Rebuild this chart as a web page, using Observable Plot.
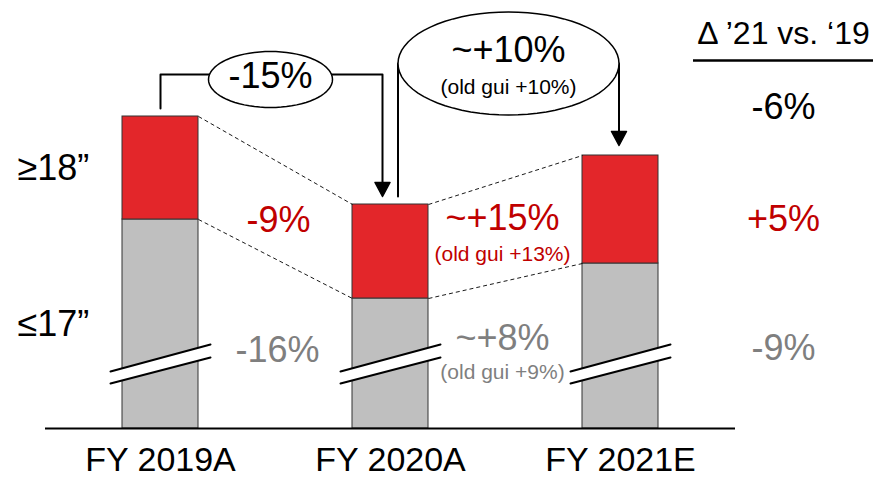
<!DOCTYPE html>
<html>
<head>
<meta charset="utf-8">
<script src="https://cdn.jsdelivr.net/npm/d3@7"></script>
<script src="https://cdn.jsdelivr.net/npm/@observablehq/plot@0.6"></script>
<style>
  html, body { margin: 0; padding: 0; background: #fff; }
  svg { display: block; }
</style>
</head>
<body>
<div id="chart"></div>
<script>
// ---------- data ----------
const categories = ["FY 2019A", "FY 2020A", "FY 2021E"];
const smallWheels = [209, 130, 165];   // ≤17" (axis broken, indexed units)
const largeWheels = [103, 94, 108];    // ≥18"
const segmentLabels = ["≥18”", "≤17”"];
const changeLarge = ["-9%", "~+15%"];
const changeLargeOld = ["", "(old gui +13%)"];
const changeSmall = ["-16%", "~+8%"];
const changeSmallOld = ["", "(old gui +9%)"];
const changeTotal = ["-15%", "~+10%"];
const changeTotalOld = ["", "(old gui +10%)"];
const deltaTitle = "Δ ’21 vs. ‘19";
const deltaValues = ["-6%", "+5%", "-9%"]; // total, ≥18", ≤17"

// ---------- styling ----------
const RED = "#E3262A", RED_TXT = "#C00000", GRAY = "#BFBFBF", GRAY_TXT = "#7F7F7F";
const FONT = "'Liberation Sans', Arial, sans-serif";
const unit = 230;                 // px per category step
const px = p => p / unit;         // horizontal pixel offset in x units
const hw = px(38);                // half bar width

const rows = categories.map((c, i) => ({
  i, c, small: smallWheels[i], large: largeWheels[i], top: smallWheels[i] + largeWheels[i]
}));
const tops = rows.map(d => d.top);

// connectors between bars
const links = [];
for (let i = 0; i < rows.length - 1; i++) {
  links.push({x1: i + hw, y1: rows[i].top, x2: i + 1 - hw, y2: rows[i + 1].top});
  links.push({x1: i + hw, y1: rows[i].small, x2: i + 1 - hw, y2: rows[i + 1].small});
}

// brackets
const ellipse = (cx, cy, rx, ry) => d3.range(0, 73).map(k => {
  const t = (k / 72) * 2 * Math.PI;
  return [cx + px(rx) * Math.cos(t), cy + ry * Math.sin(t)];
});
const tri = (x, y, w, h) => [[x - px(w / 2), y + h], [x + px(w / 2), y + h], [x, y]];

const lvl1 = tops[0] + 42;
const a1x = 1 - px(8);
const bracket1 = [[0, tops[0] + 8], [0, lvl1], [a1x, lvl1], [a1x, tops[1] + 8 + 12]];
const e1 = {cx: 0.5 - px(5), cy: lvl1 - 5, rx: 62, ry: 28};

const lvl2 = tops[0] + 53;
const e2 = {cx: 1.5 + px(3), cy: lvl2, rx: 110.5, ry: 51.5};
const b2L = e2.cx - px(e2.rx), b2R = e2.cx + px(e2.rx);
const bracket2a = [[b2L, tops[1] + 8], [b2L, lvl2]];
const bracket2b = [[b2R, lvl2], [b2R, tops[2] + 10 + 12]];

// break marks
const breakY = {ll: 45, lr: 71, ul: 57, ur: 84};
const breakPolys = rows.map(d => [[d.i - px(50), breakY.ll], [d.i + px(50), breakY.lr], [d.i + px(50), breakY.ur], [d.i - px(50), breakY.ul]]);

const XY = {x: d => d[0], y: d => d[1]};
const txt = (data, opts) => Plot.text(data, {fontFamily: FONT, ...opts});

const marks = [
  // bars
  Plot.rect(rows, {x1: d => d.i - hw, x2: d => d.i + hw, y1: 0, y2: d => d.small, fill: GRAY, stroke: "#333", strokeWidth: 1}),
  Plot.rect(rows, {x1: d => d.i - hw, x2: d => d.i + hw, y1: d => d.small, y2: d => d.top, fill: RED, stroke: "#333", strokeWidth: 1}),
  // connectors
  Plot.link(links, {x1: "x1", y1: "y1", x2: "x2", y2: "y2", stroke: "#000", strokeWidth: 0.9, strokeDasharray: "4,3"}),
  // break marks
  ...breakPolys.map(p => Plot.line(p, {...XY, curve: "linear-closed", fill: "white", stroke: "none"})),
  ...breakPolys.map(p => Plot.line([p[0], p[1]], {...XY, stroke: "#000", strokeWidth: 2})),
  ...breakPolys.map(p => Plot.line([p[3], p[2]], {...XY, stroke: "#000", strokeWidth: 2})),
  // baseline
  Plot.ruleY([0], {x1: -0.5, x2: 2.5, stroke: "#000", strokeWidth: 2}),
  // brackets
  Plot.line(bracket1, {...XY, stroke: "#000", strokeWidth: 2}),
  Plot.line(tri(a1x, tops[1] + 8, 15, 14), {...XY, curve: "linear-closed", fill: "#000", stroke: "#000"}),
  Plot.line(ellipse(e1.cx, e1.cy, e1.rx, e1.ry), {...XY, curve: "linear-closed", fill: "white", stroke: "#000", strokeWidth: 1.5}),
  Plot.line(bracket2a, {...XY, stroke: "#000", strokeWidth: 2}),
  Plot.line(bracket2b, {...XY, stroke: "#000", strokeWidth: 2}),
  Plot.line(tri(b2R, tops[2] + 10, 15, 14), {...XY, curve: "linear-closed", fill: "#000", stroke: "#000"}),
  Plot.line(ellipse(e2.cx, e2.cy, e2.rx, e2.ry), {...XY, curve: "linear-closed", fill: "white", stroke: "#000", strokeWidth: 1.5}),
  txt([changeTotal[0]], {x: e1.cx, y: e1.cy + 3, text: d => d, fontSize: 36, fill: "#000"}),
  txt([changeTotal[1]], {x: e2.cx, y: e2.cy + 13, text: d => d, fontSize: 36, fill: "#000"}),
  txt([changeTotalOld[1]], {x: e2.cx, y: e2.cy - 24, text: d => d, fontSize: 21, fill: "#000"}),
  // category labels
  txt(rows, {x: "i", y: -32, text: "c", fontSize: 34, fill: "#000"}),
  // segment labels (left)
  txt([{t: segmentLabels[0], y: rows[0].small + rows[0].large / 2}, {t: segmentLabels[1], y: rows[0].small / 2}],
      {x: -0.5 + px(-28), y: "y", text: "t", fontSize: 36, fill: "#000", textAnchor: "start"}),
  // between-bar changes
  txt(changeLarge.map((t, i) => ({t, i})), {x: d => d.i + 0.5 + px(d.i ? -3 : 3), y: d => d.i ? 210 : 208, text: "t", fontSize: 36, fill: RED_TXT}),
  txt(changeLargeOld.map((t, i) => ({t, i})), {x: d => d.i + 0.5 - px(3), y: 174, text: "t", fontSize: 21, fill: RED_TXT}),
  txt(changeSmall.map((t, i) => ({t, i})), {x: d => d.i + 0.5 + px(d.i ? -3 : 2), y: d => d.i ? 90 : 78, text: "t", fontSize: 36, fill: GRAY_TXT}),
  txt(changeSmallOld.map((t, i) => ({t, i})), {x: d => d.i + 0.5 - px(3), y: 56, text: "t", fontSize: 21, fill: GRAY_TXT}),
  // right column
  txt([deltaTitle], {x: 2.5 + px(48), y: 395, text: d => d, fontSize: 32, fill: "#000"}),
  Plot.ruleY([368], {x1: 2.5 + px(-42), x2: 2.5 + px(140), stroke: "#000", strokeWidth: 2.5}),
  txt(deltaValues.map((t, k) => ({t, k})), {x: 2.5 + px(48), y: d => [321, 209, 80][d.k], text: "t", fontSize: 36,
      fill: d => [ "#000", RED_TXT, GRAY_TXT ][d.k]})
];

const chart = Plot.plot({
  width: 873,
  height: 479,
  margin: 0,
  style: {fontFamily: FONT, background: "#fff"},
  x: {type: "linear", domain: [0, 2], range: [160, 620], axis: null},
  y: {type: "linear", domain: [0, 428], range: [428, 0], axis: null},
  marks
});
document.getElementById("chart").appendChild(chart);
</script>
</body>
</html>
